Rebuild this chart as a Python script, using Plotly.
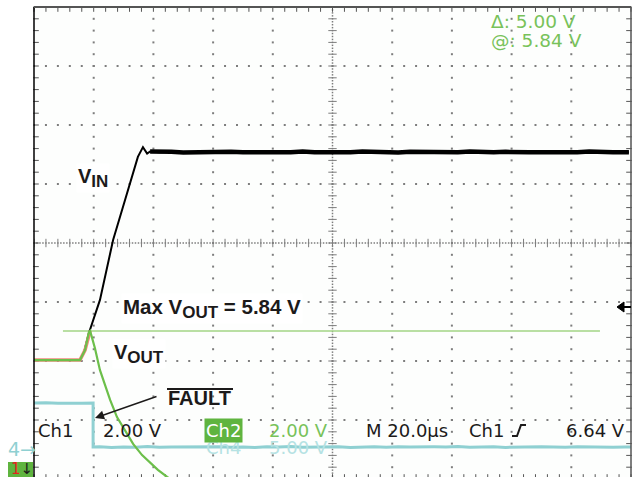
import numpy as np
import plotly.graph_objects as go

# ---------------- data ----------------
TIME_PER_DIV_US = 20.0
CH1_V_PER_DIV = 2.0
CH2_V_PER_DIV = 2.0
CH4_V_PER_DIV = 5.0
CH1_OFFSET_DIV = -4.41
CH2_OFFSET_DIV = -4.41
CH4_OFFSET_DIV = -3.49

# Ch1 : VIN (black)
vin_time_us = [0, 15.4, 16.8, 18.4, 22.1, 26.5, 30.5, 34.8, 36.5, 37.9, 38.9,
               42, 46, 50, 54, 58, 62, 66, 70, 74, 78, 82, 86, 90, 94, 98,
               102, 106, 110, 114, 118, 122, 126, 130, 134, 138, 142, 146,
               150, 154, 158, 162, 166, 170, 174, 178, 182, 186, 190, 194, 199.3]
vin_volts = [4.85, 4.85, 5.13, 5.77, 6.89, 8.92, 10.28, 11.74, 12.07, 11.85, 11.92,
             11.90, 11.91, 11.89, 11.90, 11.92, 11.90, 11.91, 11.90, 11.89, 11.91, 11.90,
             11.90, 11.92, 11.90, 11.89, 11.91, 11.90, 11.92, 11.90, 11.90, 11.89, 11.91,
             11.90, 11.91, 11.89, 11.90, 11.92, 11.90, 11.90, 11.91, 11.89, 11.90, 11.90,
             11.89, 11.91, 11.90, 11.92, 11.90, 11.90, 11.90]

# Ch3 overlay (salmon) on the initial flat part
ch3_time_us = [0, 15.4, 17.1, 18.8]
ch3_volts = [4.85, 4.85, 5.19, 5.84]

# Ch2 : VOUT (green)
vout_time_us = [0, 15.4, 17.1, 18.4, 18.8, 20.4, 22.1, 23.8, 25.5, 27.8, 30.5,
                33.2, 36.2, 38.9, 41.5, 44.6, 48.9]
vout_volts = [4.85, 4.85, 5.19, 5.80, 5.84, 5.26, 4.51, 3.97, 3.50, 2.92, 2.45,
              2.01, 1.63, 1.36, 1.13, 0.89, 0.58]

# Ch4 : FAULT (cyan)
fault_time_us = [0, 4, 8, 12, 16, 19.8, 19.8, 22, 26, 30, 34, 38, 42, 46, 50, 54,
                 58, 62, 66, 70, 74, 78, 82, 86, 90, 94, 98, 102, 106, 110, 114,
                 118, 122, 126, 130, 134, 138, 142, 146, 150, 154, 158, 162, 166,
                 170, 174, 178, 182, 186, 190, 194, 198, 200]
fault_volts = [3.89, 3.92, 3.87, 3.90, 3.88, 3.89, 0.16, 0.19, 0.13, 0.17, 0.15,
               0.20, 0.14, 0.17, 0.18, 0.13, 0.16, 0.19, 0.14, 0.17, 0.13, 0.18,
               0.16, 0.20, 0.14, 0.17, 0.15, 0.19, 0.13, 0.17, 0.18, 0.14, 0.19,
               0.16, 0.14, 0.18, 0.17, 0.20, 0.14, 0.16, 0.19, 0.13, 0.17, 0.15,
               0.19, 0.17, 0.14, 0.18, 0.16, 0.20, 0.14, 0.17, 0.16]

# cursor / trigger
max_vout_v = 5.84
cursor_time_us = [9.7, 189.6]
trigger_level_v = 6.64

readouts = {
    "delta": "\u0394: 5.00 V",
    "at": "@: 5.84 V",
    "ch1": "Ch1", "ch1_scale": "2.00 V",
    "ch2": "Ch2", "ch2_scale": "2.00 V",
    "timebase": "M 20.0\u00b5s", "trig_src": "Ch1", "trig_lvl": "6.64 V",
    "ch4": "Ch4", "ch4_scale": "5.00 V",
}

# ---------------- geometry helpers ----------------
W, H = 637, 477
PL, PR, PT, PB = 34, 631, 7, 477          # plot area in pixels
PX_PER_DIV_Y = 59.0
Y_TOP = 4.0
Y_BOT = Y_TOP - (PB - PT) / PX_PER_DIV_Y
X_MAX = 10 * TIME_PER_DIV_US


def to_div(v, scale, off):
    return np.asarray(v, dtype=float) / scale + off


def xp(px):
    return (px - PL) / (PR - PL)


def yp(py):
    return (PB - py) / (PB - PT)


BLACK = "#1c1a1a"
GREEN = "#6cbf4a"
GREEN_TXT = "#78c25a"
CURSOR = "#a2d585"
CYAN = "#8fd0d2"
SALMON = "#ef8a7c"
GRID = "#7d7d7d"

fig = go.Figure()

# ---------------- graticule ----------------
gx, gy = [], []
yy = np.arange(-4, 4.001, 0.2)
xx = np.arange(0, X_MAX + 0.01, TIME_PER_DIV_US / 5)
for k in range(1, 10):
    if k == 5:
        continue
    gx += [k * TIME_PER_DIV_US] * len(yy)
    gy += list(yy)
for j in range(-3, 4):
    if j == 0:
        continue
    gx += list(xx)
    gy += [j] * len(xx)
fig.add_trace(go.Scatter(x=gx, y=gy, mode="markers", hoverinfo="skip",
                         marker=dict(symbol="square", size=2, color=GRID, line=dict(width=0))))
# center lines: dense dots + ticks
cyy = np.arange(-4, 4.001, 0.05)
cxx = np.arange(0, X_MAX + 0.01, TIME_PER_DIV_US / 20)
fig.add_trace(go.Scatter(x=[5 * TIME_PER_DIV_US] * len(cyy) + list(cxx),
                         y=list(cyy) + [0] * len(cxx), mode="markers", hoverinfo="skip",
                         marker=dict(symbol="square", size=1.5, color=GRID, line=dict(width=0))))
fig.add_trace(go.Scatter(x=[5 * TIME_PER_DIV_US] * len(yy), y=yy, mode="markers", hoverinfo="skip",
                         marker=dict(symbol="line-ew", size=6, line=dict(width=1, color=GRID))))
fig.add_trace(go.Scatter(x=xx, y=[0] * len(xx), mode="markers", hoverinfo="skip",
                         marker=dict(symbol="line-ns", size=6, line=dict(width=1, color=GRID))))
# border ticks
dy = 2.0 / PX_PER_DIV_Y
dx = 2.0 / 59.7 * TIME_PER_DIV_US
fig.add_trace(go.Scatter(x=list(xx) + list(xx), y=[Y_TOP - dy] * len(xx) + [-4 + dy] * len(xx),
                         mode="markers", hoverinfo="skip", cliponaxis=False,
                         marker=dict(symbol="line-ns", size=4, line=dict(width=1, color="#555"))))
fig.add_trace(go.Scatter(x=[dx] * len(yy) + [X_MAX - dx] * len(yy), y=list(yy) + list(yy),
                         mode="markers", hoverinfo="skip", cliponaxis=False,
                         marker=dict(symbol="line-ew", size=4, line=dict(width=1, color="#555"))))

# ---------------- waveforms ----------------
fig.add_trace(go.Scatter(x=fault_time_us, y=to_div(fault_volts, CH4_V_PER_DIV, CH4_OFFSET_DIV),
                         mode="lines", line=dict(color=CYAN, width=3), hoverinfo="skip"))
fig.add_trace(go.Scatter(x=cursor_time_us,
                         y=to_div([max_vout_v, max_vout_v], CH2_V_PER_DIV, CH2_OFFSET_DIV),
                         mode="lines", line=dict(color=CURSOR, width=1.5), hoverinfo="skip"))
fig.add_trace(go.Scatter(x=vin_time_us, y=to_div(vin_volts, CH1_V_PER_DIV, CH1_OFFSET_DIV),
                         mode="lines", line=dict(color="#000000", width=2), hoverinfo="skip"))
fig.add_trace(go.Scatter(x=vin_time_us[10:], y=to_div(vin_volts[10:], CH1_V_PER_DIV, CH1_OFFSET_DIV),
                         mode="lines", line=dict(color="#000000", width=4.5), hoverinfo="skip"))
fig.add_trace(go.Scatter(x=ch3_time_us, y=to_div(ch3_volts, CH1_V_PER_DIV, CH1_OFFSET_DIV),
                         mode="lines", line=dict(color=SALMON, width=3.5), hoverinfo="skip"))
fig.add_trace(go.Scatter(x=vout_time_us, y=to_div(vout_volts, CH2_V_PER_DIV, CH2_OFFSET_DIV),
                         mode="lines", line=dict(color=GREEN, width=2.2), hoverinfo="skip"))

# ---------------- frame ----------------
shapes = [
    dict(type="line", xref="paper", yref="paper", x0=0, x1=0, y0=0, y1=1,
         line=dict(color="#000", width=1.5)),
    dict(type="line", xref="paper", yref="paper", x0=0, x1=1, y0=1, y1=1,
         line=dict(color="#555", width=2)),
    dict(type="line", xref="paper", yref="paper", x0=1, x1=1, y0=0, y1=1,
         line=dict(color="#555", width=1.5)),
    # rising-edge glyph
    dict(type="path", xref="paper", yref="paper",
         path=f"M {xp(512)},{yp(436)} L {xp(517)},{yp(436)} L {xp(521)},{yp(425)} L {xp(526)},{yp(425)}",
         line=dict(color=BLACK, width=2)),
    # trigger level marker at right edge
    dict(type="path", xref="paper", yref="paper", fillcolor="#000",
         path=f"M {xp(617)},{yp(307)} L {xp(624)},{yp(302)} L {xp(624)},{yp(312)} Z",
         line=dict(color="#000", width=1)),
    dict(type="line", xref="paper", yref="paper", x0=xp(623), x1=xp(631), y0=yp(307), y1=yp(307),
         line=dict(color="#000", width=2)),
    # Ch2 ground marker box (bottom left)
    dict(type="rect", xref="paper", yref="paper", x0=xp(8), x1=xp(33), y0=yp(480), y1=yp(462),
         fillcolor="#5fb43f", line=dict(width=0)),
]

BOLD = "Liberation Sans"
TEK = "DejaVu Sans"
ann = []


def label(text, px, py, size=20, color=BLACK, family=BOLD, bg="rgba(0,0,0,0)", xanchor="left", **kw):
    ann.append(dict(text=text, x=xp(px), y=yp(py), xref="paper", yref="paper",
                    xanchor=xanchor, yanchor="middle", showarrow=False,
                    font=dict(family=family, size=size, color=color), bgcolor=bg, borderpad=1, **kw))


SUB = '<sub><span style="font-size:17px">{}</span></sub>'
label("<b>V" + SUB.format("IN") + "</b>", 76, 178, bg="white")
label("<b>Max V" + SUB.format("OUT") + " = 5.84 V</b>", 121, 309, size=20.5, bg="white")
label("<b>V" + SUB.format("OUT") + "</b>", 112, 354, bg="white")
label("<b>FAULT</b>", 166, 398)

# scope readouts
label(readouts["delta"], 489, 22, size=18.5, color=GREEN_TXT, family=TEK)
label(readouts["at"], 489, 40, size=18.5, color=GREEN_TXT, family=TEK)
label(readouts["ch4"], 204, 447, size=18, color="#b5e2e3", family=TEK)
label(readouts["ch4_scale"], 267, 447, size=18, color="#b5e2e3", family=TEK)
label(readouts["ch1"], 36, 430, size=18, family=TEK)
label(readouts["ch1_scale"], 101, 430, size=18, family=TEK)
label(readouts["ch2"], 204, 430, size=18, color="white", family=TEK, bg="#5fb43f")
label(readouts["ch2_scale"], 267, 430, size=18, color=GREEN_TXT, family=TEK)
label(readouts["timebase"], 364, 430, size=18, family=TEK)
label(readouts["trig_src"], 467, 430, size=18, family=TEK)
label(readouts["trig_lvl"], 564, 430, size=18, family=TEK)
label("4\u2192", 6, 449, size=19, color=CYAN, family=TEK)
label('<span style="color:#e3241b">1</span>\u2193', 9, 469, size=15, family=TEK)

# overline on FAULT (drawn after the label so it stays visible)
shapes.append(dict(type="line", xref="paper", yref="paper", x0=xp(167), x1=xp(233),
                   y0=yp(389), y1=yp(389), line=dict(color=BLACK, width=2)))

# arrow to FAULT edge
ann.append(dict(x=xp(95), y=yp(418), xref="paper", yref="paper", text="", showarrow=True,
                ax=63, ay=-22, arrowhead=2, arrowsize=1.3, arrowwidth=1.4, arrowcolor=BLACK))

fig.update_layout(
    width=W, height=H, margin=dict(l=PL, r=W - PR, t=PT, b=H - PB),
    paper_bgcolor="white", plot_bgcolor="#fdfefd", showlegend=False,
    xaxis=dict(range=[0, X_MAX], showgrid=False, zeroline=False, showticklabels=False,
               ticks="", showline=False, fixedrange=True),
    yaxis=dict(range=[Y_BOT, Y_TOP], showgrid=False, zeroline=False, showticklabels=False,
               ticks="", showline=False, fixedrange=True),
    shapes=shapes, annotations=ann,
)

fig.write_html("out.html", config={"displayModeBar": False},
               post_script="document.body.style.margin='0px';document.body.style.overflow='hidden';")
